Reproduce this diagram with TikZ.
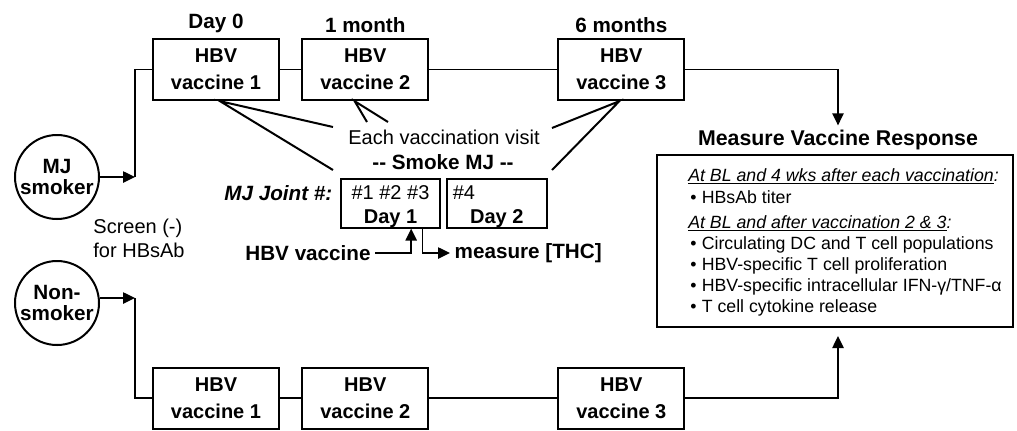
\documentclass[tikz,border=0pt]{standalone}
\usepackage{fontspec}
\setmainfont{Liberation Sans}
\usepackage{tikz}
\usetikzlibrary{
  arrows.meta,
  positioning
}
\newcommand{\vaccBox}[3]{\node[vacc,#3] (#1)%
  {HBV\\vaccine #2};}
\newcommand{\respItem}[3]{\node[respText] (#1) at (690,#2)%
  {\textbullet\hspace{4pt}#3};}
\newcommand{\jointStrut}{\rule{0pt}{15pt}}
\tikzset{
  vacc/.style={
    rectangle,
    draw,
    line width=1.5pt,
    minimum width=94.5pt,
    minimum height=46pt,
    inner sep=2pt,
    align=center,
    font=\fontsize{15}{20}\selectfont\bfseries
  }
}
\tikzset{
  group/.style={
    circle,
    draw,
    line width=1.5pt,
    minimum size=63pt,
    inner sep=0pt,
    align=center,
    font=\fontsize{15.5}{16}\selectfont\bfseries
  }
}
\tikzset{
  joint/.style={
    rectangle,
    draw,
    line width=1.5pt,
    minimum width=74.5pt,
    minimum height=35.5pt,
    inner sep=0pt,
    align=center,
    font=\fontsize{15}{18}\selectfont
  }
}
\tikzset{
  respBox/.style={
    rectangle,
    draw,
    line width=1.5pt,
    minimum width=267pt,
    minimum height=129pt
  }
}
\tikzset{
  respText/.style={
    anchor=west,
    inner sep=0pt,
    font=\fontsize{13.3}{16}\selectfont
  }
}
\tikzset{
  when/.style={font=\fontsize{15.5}{18}\selectfont\bfseries},
  big/.style={font=\fontsize{16}{18}\selectfont\bfseries},
  link/.style={line width=1.1pt},
  callout/.style={line width=1.5pt},
  arr/.style={->, line width=1.1pt}
}

\begin{document}
\begin{tikzpicture}[x=0.75pt, y=-0.75pt, >={Triangle[length=9pt,width=8.5pt]},
    node distance=16pt, font=\fontsize{15}{18}\selectfont]
    \useasboundingbox (0,0) rectangle (1017,430);

    \node[group] (smoker) at (57,177) {MJ\\smoker};
    \node[group] (nonsmoker) at (57,303) {Non-\\smoker};

    \vaccBox{v1}{1}{at={(216,69.5)}, label={[when]above:Day 0}}
    \vaccBox{v2}{2}{right=of v1, label={[when]above:1 month}}
    \vaccBox{v3}{3}{right=96pt of v2, label={[when]above:6 months}}

    \vaccBox{b1}{1}{below=199pt of v1}
    \vaccBox{b2}{2}{right=of b1}
    \vaccBox{b3}{3}{right=96pt of b2}

    \node[anchor=east, font=\fontsize{15.5}{18}\selectfont\bfseries\itshape]
      (jointLabel) at (337,193) {MJ Joint \#:};
    \node[joint] (day1) at (390.5,203.5)
      {\jointStrut\#1 \#2 \#3\\\textbf{Day 1}};
    \node[joint, right=3.75pt of day1] (day2)
      {\jointStrut\makebox[66pt][l]{\#4}\\\textbf{Day 2}};

    \node (visit) at (444,137) {Each vaccination visit};
    \node[when] (smoke) at (443,162) {-{}- Smoke MJ -{}-};
    \node[align=left] (screen) at (139,238) {Screen (-)\\for HBsAb};
    \node[when] (hbv) at (308,253) {HBV vaccine};
    \node[when, anchor=west] (thc) at (450,253) {measure [THC]};

    \node[big] (measure) at (838,140) {Measure Vaccine Response};
    \node[respBox] (resp) at (835,241) {};
    \node[respText] (atBL1) at (688,176)
      {\underline{\textit{At BL and 4 wks after each vaccination}}\textit{:}};
    \respItem{titer}{197}{HBsAb titer}
    \node[respText] (atBL2) at (688,223)
      {\underline{\textit{At BL and after vaccination 2 \& 3}}\textit{:}};
    \foreach \y/\txt in {245/{Circulating DC and T cell populations},
      266/{HBV-specific T cell proliferation},
      287/{HBV-specific intracellular IFN-γ/TNF-α},
      308/{T cell cytokine release}}{
      \respItem{item\y}{\y}{\txt}
    }

    % groups into the vaccine rows
    \coordinate (jS) at (135,177);
    \coordinate (jN) at (135,298);
    \draw[arr] (smoker) -- (jS);
    \draw[link] (jS) |- (v1);
    \draw[arr] (nonsmoker.east |- jN) -- (jN);
    \draw[link] (jN) |- (b1);

    \draw[link] (v1) -- (v2);
    \draw[link] (v2) -- (v3);
    \draw[link] (b1) -- (b2);
    \draw[link] (b2) -- (b3);
    \draw[arr] (v3) -| (measure);
    \draw[arr, shorten >=6pt] (b3) -| (measure |- resp.south);

    % each vaccination visit
    \coordinate (c1a) at (333,127);
    \coordinate (c1b) at (333,170);
    \coordinate (c2a) at (367,122);
    \coordinate (c2b) at (388,122);
    \coordinate (c3a) at (552,128);
    \coordinate (c3b) at (552,170);
    \draw[callout] (c1a) -- ([xshift=3pt]v1.south) -- (c1b);
    \draw[callout] (c2a) -- ([xshift=-8pt]v2.south) -- (c2b);
    \draw[callout] (c3a) -- ([xshift=-1.5pt]v3.south) -- (c3b);

    \draw[arr] (hbv) -| ([xshift=15.5pt]day1.south);
    \draw[arr] ([xshift=24pt]day1.south) |- (thc);
  \end{tikzpicture}
\end{document}
